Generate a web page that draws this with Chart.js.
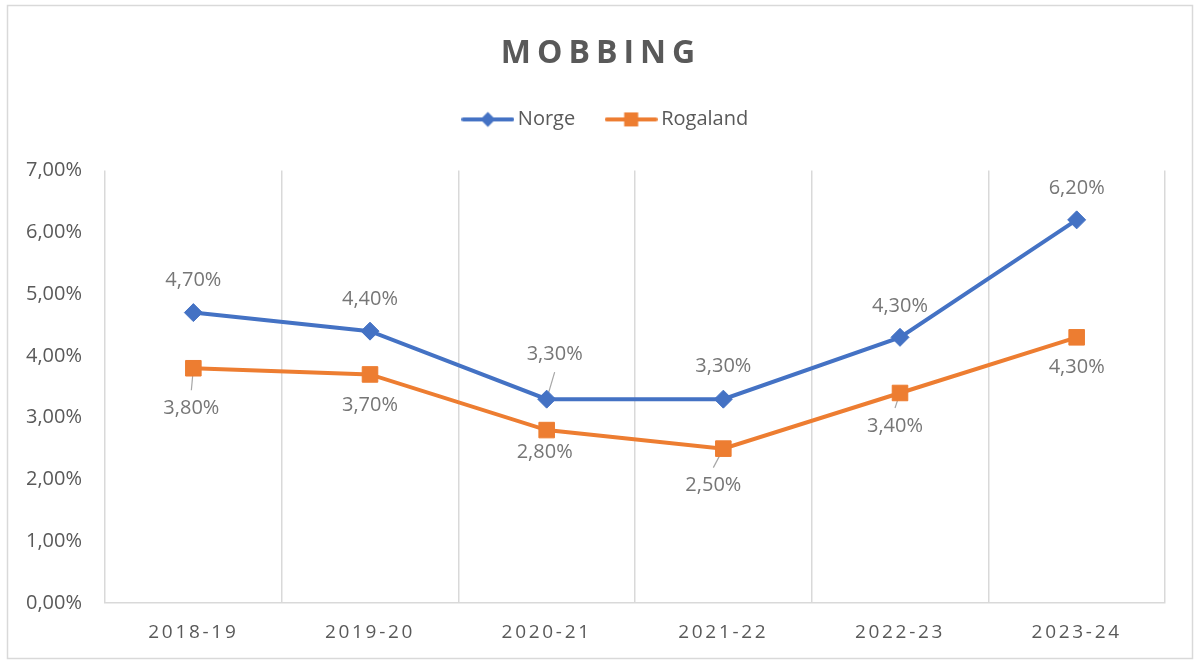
<!DOCTYPE html>
<html><head><meta charset="utf-8">
<script src="https://cdn.jsdelivr.net/npm/chart.js@4.4.1/dist/chart.umd.min.js"></script>
<style>html,body{margin:0;padding:0;background:#fff}canvas{display:block}</style>
</head><body>
<canvas id="c" width="1200" height="665"></canvas>
<script>
const categories = ['2018-19', '2019-20', '2020-21', '2021-22', '2022-23', '2023-24'];
const norge = [4.7, 4.4, 3.3, 3.3, 4.3, 6.2];
const rogaland = [3.8, 3.7, 2.8, 2.5, 3.4, 4.3];
const yTicks = [0, 1, 2, 3, 4, 5, 6, 7];

// label placement (relative offsets from each point, px) and leader-line flags
const norgeLabelOffsets = [[0, -32], [0, -32], [8, -45], [0, -33], [0, -31], [0, -32]];
const rogalandLabelOffsets = [[-2, 40], [0, 31], [-2, 22], [-10, 37], [-5, 33], [0, 30]];
const norgeLeaders = [false, false, true, false, false, false];
const rogalandLeaders = [true, false, false, true, true, false];

const FONT = "'Open Sans', 'DejaVu Sans', sans-serif";
const BLUE = '#4472C4', ORANGE = '#ED7D31';
const fmt = v => Number(v).toFixed(2).replace('.', ',') + '%';

function legendIcon(color, shape) {
  const c = document.createElement('canvas');
  c.width = 53; c.height = 20;
  const g = c.getContext('2d');
  g.strokeStyle = color; g.lineWidth = 4; g.lineCap = 'round';
  g.beginPath(); g.moveTo(2, 10); g.lineTo(51, 10); g.stroke();
  g.fillStyle = color;
  g.beginPath();
  if (shape === 'diamond') {
    g.moveTo(26.5, 2.5); g.lineTo(34, 10); g.lineTo(26.5, 17.5); g.lineTo(19, 10); g.closePath();
  } else {
    g.rect(19.5, 3, 14, 14);
  }
  g.fill();
  return c;
}
const legendIcons = [legendIcon(BLUE, 'diamond'), legendIcon(ORANGE, 'square')];

const deco = {
  id: 'deco',
  beforeLayout(chart) {
    const lg = chart.legend;
    if (lg && !lg._wrapped) {
      const of = lg.fit.bind(lg);
      lg.fit = function () { of(); this.height += 31; };
      const od = lg.draw.bind(lg);
      lg.draw = function () { const c = this.ctx; c.save(); c.translate(20, 0); od(); c.restore(); };
      lg._wrapped = true;
    }
  },
  beforeDraw(chart) {
    const ctx = chart.ctx;
    ctx.save();
    ctx.strokeStyle = '#d9d9d9'; ctx.lineWidth = 1.5;
    ctx.strokeRect(7.5, 5.5, 1185, 653);
    ctx.restore();
    const xs = chart.scales.x;
    if (xs && !xs._wrapped) {
      const orig = xs.drawLabels.bind(xs);
      xs.drawLabels = function (a) { const c = this.ctx; c.save(); c.letterSpacing = '2.7px'; orig(a); c.restore(); };
      xs._wrapped = true;
    }
    const tb = chart.titleBlock;
    if (tb && !tb._wrapped) {
      const o = tb.draw.bind(tb);
      tb.draw = function () { const c = this.ctx; c.save(); c.translate(13, 0); c.letterSpacing = '6px'; o(); c.restore(); };
      tb._wrapped = true;
    }
  },
  beforeDatasetsDraw(chart) {
    const ctx = chart.ctx;
    ctx.save();
    ctx.strokeStyle = '#a6a6a6'; ctx.lineWidth = 1.2;
    chart.data.datasets.forEach((ds, i) => {
      const meta = chart.getDatasetMeta(i);
      meta.data.forEach((pt, j) => {
        if (!ds.leaders[j]) return;
        const [dx, dy] = ds.labelOffsets[j];
        const lx = pt.x + dx, ly = pt.y + dy - Math.sign(dy) * 18;
        ctx.beginPath(); ctx.moveTo(pt.x, pt.y); ctx.lineTo(lx, ly); ctx.stroke();
      });
    });
    ctx.restore();
  },
  afterDatasetsDraw(chart) {
    const ctx = chart.ctx;
    ctx.save();
    ctx.font = '20px ' + FONT;
    ctx.fillStyle = '#767676';
    ctx.textAlign = 'center'; ctx.textBaseline = 'middle';
    chart.data.datasets.forEach((ds, i) => {
      const meta = chart.getDatasetMeta(i);
      meta.data.forEach((pt, j) => {
        const [dx, dy] = ds.labelOffsets[j];
        ctx.fillText(fmt(ds.data[j]), pt.x + dx, pt.y + dy);
      });
    });
    ctx.restore();
  }
};

new Chart(document.getElementById('c'), {
  type: 'line',
  data: {
    labels: categories,
    datasets: [
      { label: 'Norge', data: norge, borderColor: BLUE, backgroundColor: BLUE, borderWidth: 4,
        pointStyle: 'rectRot', pointRadius: 9, pointHoverRadius: 9, pointBorderColor: BLUE, pointBackgroundColor: BLUE, pointBorderWidth: 1,
        tension: 0, labelOffsets: norgeLabelOffsets, leaders: norgeLeaders },
      { label: 'Rogaland', data: rogaland, borderColor: ORANGE, backgroundColor: ORANGE, borderWidth: 4,
        pointStyle: 'rect', pointRadius: 11, pointHoverRadius: 11, pointBorderColor: ORANGE, pointBackgroundColor: ORANGE, pointBorderWidth: 1,
        tension: 0, labelOffsets: rogalandLabelOffsets, leaders: rogalandLeaders }
    ]
  },
  options: {
    responsive: false,
    animation: false,
    layout: { padding: { left: 11, right: 35, top: 18, bottom: 3 } },
    plugins: {
      title: { display: true, text: 'MOBBING', color: '#595959', font: { family: FONT, size: 32, weight: 'bold' }, padding: { top: 17, bottom: 0 } },
      legend: {
        position: 'top',
        labels: {
          usePointStyle: true, pointStyleWidth: 40, padding: 36, color: '#595959',
          font: { family: FONT, size: 20 },
          generateLabels(chart) {
            const items = Chart.defaults.plugins.legend.labels.generateLabels(chart);
            items.forEach((it, i) => { it.pointStyle = legendIcons[i]; it.fontColor = '#595959'; });
            return items;
          }
        }
      },
      tooltip: { enabled: false }
    },
    scales: {
      x: {
        offset: true,
        grid: { offset: true, color: '#d9d9d9', lineWidth: 1.5, drawTicks: false },
        border: { color: '#d9d9d9', width: 1.5 },
        ticks: { color: '#595959', font: { family: FONT, size: 19 }, padding: 18 }
      },
      y: {
        min: 0, max: 7,
        afterBuildTicks(axis) { axis.ticks = yTicks.map(v => ({ value: v })); },
        ticks: { callback: fmt, color: '#595959', font: { family: FONT, size: 20 }, padding: 15 },
        grid: { display: false },
        border: { display: false }
      }
    }
  },
  plugins: [deco]
});
</script>
</body></html>
